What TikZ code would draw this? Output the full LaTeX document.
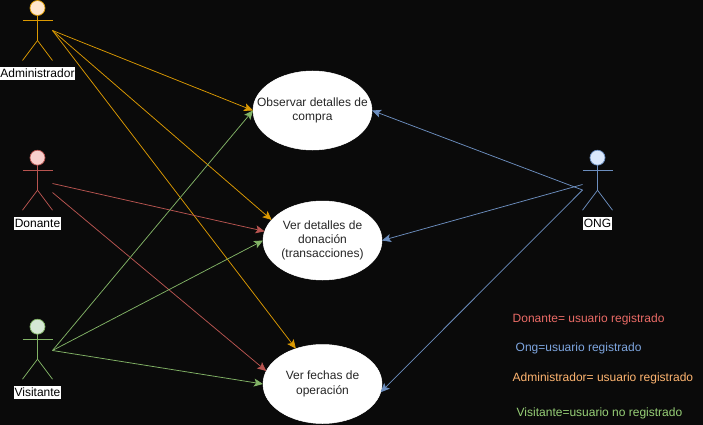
\documentclass[tikz,border=0pt]{standalone}
\usepackage{fontspec}
\setmainfont{Liberation Sans}
\usepackage{tikz}
\usetikzlibrary{positioning}
\usetikzlibrary{shapes.geometric, arrows.meta}
\definecolor{bgDark}{HTML}{0A0A0A}
\definecolor{lineOrange}{HTML}{DC9A02}
\definecolor{fillOrange}{HTML}{FFE6CC}
\definecolor{lineRed}{HTML}{B85450}
\definecolor{fillRed}{HTML}{F8CECC}
\definecolor{lineGreen}{HTML}{82B366}
\definecolor{fillGreen}{HTML}{D5E8D4}
\definecolor{lineBlue}{HTML}{6C8EBF}
\definecolor{fillBlue}{HTML}{DAE8FC}
\definecolor{textRed}{HTML}{EA6B66}
\definecolor{textBlue}{HTML}{7EA6E0}
\definecolor{textOrange}{HTML}{FFB570}
\definecolor{textGreen}{HTML}{97D077}
\tikzstyle{arrow} = [line width=0.75pt,-{Stealth[length=9pt,width=8pt,inset=2pt]}]
\tikzstyle{usecase} = [ellipse,fill=white,draw=white,line width=0.5pt,minimum width=119pt,minimum height=79pt,inner xsep=-25pt,inner ysep=0pt,outer sep=0pt,align=center,text=black!85,font=\fontsize{12}{14.3}\selectfont]
\tikzstyle{actorlabel} = [fill=white,text=black,inner xsep=0.5pt,inner ysep=0pt,text height=10pt,text depth=3pt,font=\fontsize{12}{14}\selectfont]
\tikzstyle{legend} = [anchor=west,inner sep=0pt,font=\fontsize{12}{14}\selectfont]
\begin{document}
\begin{tikzpicture}[x=1pt,y=-1pt]
	%Background
	\fill[bgDark] (0,0) rectangle (703,425);
	\useasboundingbox (0,0) rectangle (703,425);

	%Use cases
	\node [usecase] (observar) at (312.5,110.5) {Observar detalles de\\compra};
	\node [usecase] (detalles) at (322.5,240.5) {Ver detalles de\\donación\\(transacciones)};
	\node [usecase] (fechas) at (322.5,384) {Ver fechas de\\operación};

	%Actors
	\foreach \name/\x/\y/\col/\fil/\txt in {admin/37.5/8/lineOrange/fillOrange/Administrador, donante/37.5/157.7/lineRed/fillRed/Donante, visitante/37.5/326.7/lineGreen/fillGreen/Visitante, ong/597.5/157.7/lineBlue/fillBlue/ONG}{
		\node [circle,draw=\col,fill=\fil,line width=0.75pt,minimum size=15pt,inner sep=0pt,outer sep=0pt] (\name Head) at (\x,\y) {};
		\draw[\col,line width=0.75pt] (\name Head.south) -- ++(0,25) coordinate (\name Hip) -- ++(-15,20);
		\draw[\col,line width=0.75pt] (\name Hip) -- ++(15,20);
		\draw[\col,line width=0.75pt] (\x-15,\y+12.5) -- (\x+15,\y+12.5);
		\node [actorlabel] (\name Label) at (\x,\y+66) {\txt};
	}

	%Connector ends
	\coordinate (adminEnd) at (52.5,30.5);
	\coordinate (donanteEndA) at (52.5,183.5);
	\coordinate (donanteEndB) at (52.5,192.5);
	\coordinate (visitanteEnd) at (52.5,350.5);
	\coordinate (ongEndA) at (582.5,184.5);
	\coordinate (ongEndB) at (582.5,190);

	%Arrows
	\draw[arrow,lineOrange] (adminEnd) -- (observar.west);
	\draw[arrow,lineOrange] (adminEnd) -- (detalles.158);
	\draw[arrow,lineOrange] (adminEnd) -- (fechas.127);
	\draw[arrow,lineRed] (donanteEndA) -- (detalles.171);
	\draw[arrow,lineRed] (donanteEndB) -- (fechas.167);
	\draw[arrow,lineGreen] (visitanteEnd) -- (observar.west);
	\draw[arrow,lineGreen] (visitanteEnd) -- (detalles.west);
	\draw[arrow,lineGreen] (visitanteEnd) -- (fechas.west);
	\draw[arrow,lineBlue] (ongEndB) -- (observar.east);
	\draw[arrow,lineBlue] (ongEndA) -- (detalles.east);
	\draw[arrow,lineBlue] (ongEndB) -- (fechas.-8);

	%Legend
	\node [legend,text=textRed] (legDonante) at (512.5,319) {Donante= usuario registrado};
	\node [legend,text=textBlue] (legOng) at (515.5,348) {Ong=usuario registrado};
	\node [legend,text=textOrange] (legAdmin) at (512.5,378) {Administrador= usuario registrado};
	\node [legend,text=textGreen] (legVisitante) at (516.5,413) {Visitante=usuario no registrado};
\end{tikzpicture}
\end{document}
